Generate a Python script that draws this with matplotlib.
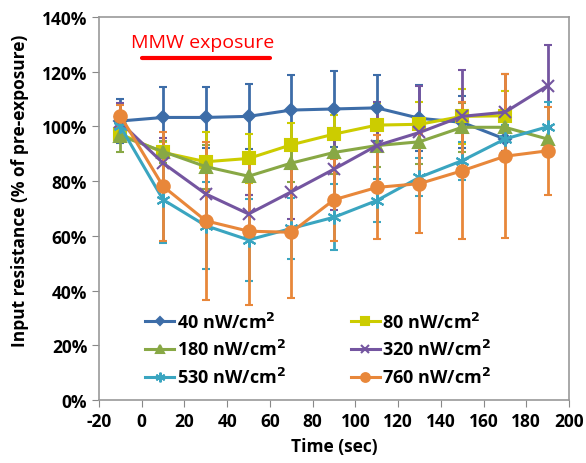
import matplotlib
matplotlib.use("Agg")
import matplotlib.pyplot as plt
from matplotlib.ticker import PercentFormatter

plt.rcParams['font.family'] = ['Open Sans', 'DejaVu Sans']
plt.rcParams['font.weight'] = 'bold'
plt.rcParams['axes.labelweight'] = 'bold'
plt.rcParams['mathtext.default'] = 'bf'
plt.rcParams['axes.unicode_minus'] = False

# time points (sec)
t = [-10, 10, 30, 50, 70, 90, 110, 130, 150, 170, 190]

labels = ["40 nW/cm$^2$", "80 nW/cm$^2$", "180 nW/cm$^2$",
          "320 nW/cm$^2$", "530 nW/cm$^2$", "760 nW/cm$^2$"]

# input resistance, % of pre-exposure
r40 = [102, 103.3, 103.3, 103.7, 106, 106.4, 106.8, 103, 101.5, 95.4]
r80 = [97.2, 90.5, 87.1, 88.3, 93.3, 97.2, 100.5, 100.8, 103.7, 103.9]
r180 = [96.6, 90.8, 85.3, 81.8, 86.6, 90.5, 93, 94.4, 99.7, 99.7, 95.4]
r320 = [101.5, 86.6, 75.3, 68, 76.1, 84.4, 93, 97.8, 103.7, 105.2, 114.9]
r530 = [100, 73.2, 63.7, 58.5, 62.7, 66.8, 72.9, 81.4, 87.5, 95.4, 99.9]
r760 = [103.9, 78.1, 65.5, 61.7, 61.3, 73.2, 77.7, 79.1, 83.8, 89.1, 91.1]

# error bars (+/-)
e40 = [8, 11, 11, 12, 13, 14, 12, 12, 9.5, 5]
e80 = [3, 4, 11, 9, 8, 7, 8, 8, 10, 9]
e180 = [6, 4, 8, 7, 7, 8, 8, 8, 9, 5, 4]
e320 = [7, 9, 10, 7, 10, 15, 16, 17, 17, 14, 15]
e530 = [4, 16, 16, 15, 11, 12, 8, 7, 7, 5, 9]
e760 = [4, 20, 29, 27, 24, 15, 19, 18, 25, 30, 16]

series = [r40, r80, r180, r320, r530, r760]
errs = [e40, e80, e180, e320, e530, e760]
colors = ["#3D6DA8", "#CCCC00", "#88A845", "#7455A0", "#3AA5C0", "#E8873A"]
markers = ["D", "s", "^", "x", (6, 2, 0), "o"]
msizes = [6, 9, 8, 8, 10, 9]

fig = plt.figure(figsize=(5.86, 4.64), dpi=100)
ax = fig.add_axes([0.169, 0.136, 0.802, 0.825])

handles = []
for y, e, c, m, ms, lab in zip(series, errs, colors, markers, msizes, labels):
    x = t[:len(y)]
    cont = ax.errorbar(x, y, yerr=e, color=c, lw=2.2, marker=m, ms=ms,
                       mew=1.5, capsize=3, capthick=2, elinewidth=2, label=lab)
    handles.append(cont[0])

# exposure marker
ax.plot([0, 60], [125, 125], color="red", lw=3, solid_capstyle="round")
ax.text(-5, 127.5, "MMW exposure", color="red", fontsize=14, fontweight="normal",
        va="bottom", ha="left")

ax.set_xlim(-20, 200)
ax.set_ylim(0, 140)
ax.set_xticks(range(-20, 201, 20))
ax.set_yticks(range(0, 141, 20))
ax.yaxis.set_major_formatter(PercentFormatter(decimals=0))
ax.tick_params(labelsize=12.5, color="#888888", length=5, direction="out")
for lbl in ax.get_xticklabels() + ax.get_yticklabels():
    lbl.set_fontweight("bold")
for s in ax.spines.values():
    s.set_color("#999999")
    s.set_linewidth(1.2)

ax.set_xlabel("Time (sec)", fontsize=12.5, fontweight="bold", labelpad=5)
ax.set_ylabel("Input resistance (% of pre-exposure)", fontsize=12.5,
              fontweight="bold")
ax.yaxis.set_label_coords(-0.15, 0.55)

# row-wise order like the original: matplotlib fills columns first
order = [0, 2, 4, 1, 3, 5]
ax.legend([handles[i] for i in order], [labels[i] for i in order],
          ncol=2, loc="lower left", bbox_to_anchor=(0.075, 0.005), frameon=False,
          prop={"size": 13, "weight": "bold"}, handlelength=1.6,
          handletextpad=0.15, columnspacing=3.6,
          labelspacing=0.42, borderaxespad=0.2, markerscale=0.7)

fig.savefig("out.png", dpi=100)
